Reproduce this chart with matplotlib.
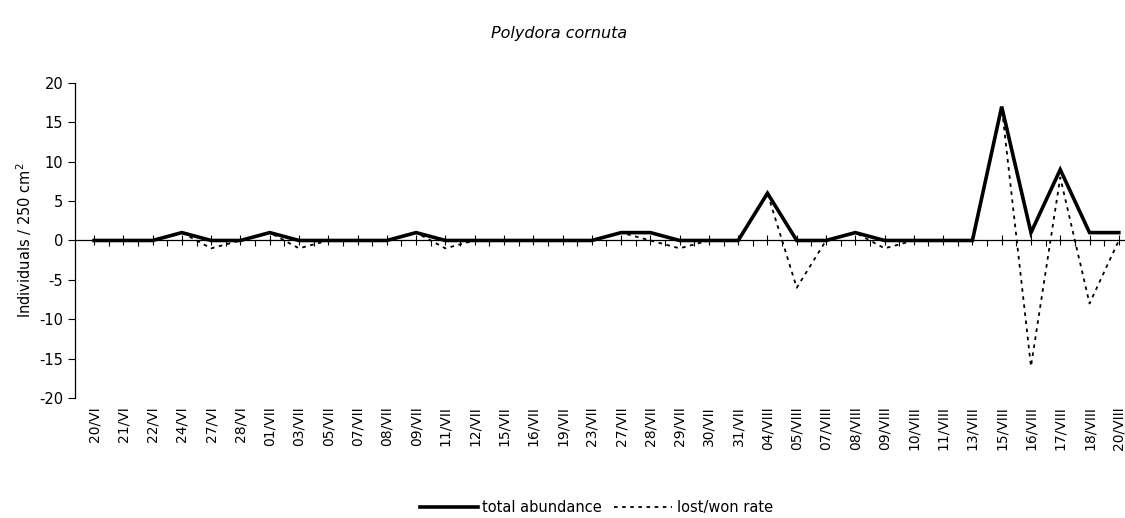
import matplotlib
matplotlib.use("Agg")
import matplotlib.pyplot as plt
import numpy as np

plt.rcParams["axes.unicode_minus"] = False

# sampling dates (day/month in roman numerals)
dates = ["20/VI", "21/VI", "22/VI", "24/VI", "27/VI", "28/VI", "01/VII", "03/VII",
         "05/VII", "07/VII", "08/VII", "09/VII", "11/VII", "12/VII", "15/VII", "16/VII",
         "19/VII", "23/VII", "27/VII", "28/VII", "29/VII", "30/VII", "31/VII", "04/VIII",
         "05/VIII", "07/VIII", "08/VIII", "09/VIII", "10/VIII", "11/VIII", "13/VIII",
         "15/VIII", "16/VIII", "17/VIII", "18/VIII", "20/VIII"]

total_abundance = [0, 0, 0, 1, 0, 0, 1, 0, 0, 0, 0, 1, 0, 0, 0, 0, 0, 0, 1, 1,
                   0, 0, 0, 6, 0, 0, 1, 0, 0, 0, 0, 17, 1, 9, 1, 1]
lost_won_rate = [0, 0, 0, 1, -1, 0, 1, -1, 0, 0, 0, 1, -1, 0, 0, 0, 0, 0, 1, 0,
                 -1, 0, 0, 6, -6, 0, 1, -1, 0, 0, 0, 17, -16, 8, -8, 0]

x = np.arange(len(dates))

fig = plt.figure(figsize=(11.25, 5.18), dpi=100)
ax = fig.add_axes([0.0667, 0.2317, 0.933, 0.6081])

ax.plot(x, total_abundance, color="black", lw=2.6, label="total abundance",
        solid_joinstyle="miter")
ax.plot(x, lost_won_rate, color="black", lw=1.3, linestyle=(0, (2, 2.5)),
        label="lost/won rate")

ax.set_ylim(-20, 20)
ax.set_yticks(range(-20, 21, 5))
ax.set_xlim(-0.65, 35.2)

# x axis line sits at zero, tick marks only
for side in ["top", "right"]:
    ax.spines[side].set_visible(False)
ax.spines["bottom"].set_position(("data", 0))
ax.spines["bottom"].set_linewidth(0.9)
ax.spines["left"].set_linewidth(0.9)
ax.set_xticks(x)
ax.set_xticks(x[:-1] + 0.5, minor=True)
ax.tick_params(axis="x", which="major", direction="inout", length=7, width=0.8,
               labelbottom=False)
ax.tick_params(axis="x", which="minor", direction="out", length=4, width=0.8)
ax.tick_params(axis="y", direction="out", length=5, width=0.8, labelsize=10.5)

# date labels along the bottom
sec = ax.secondary_xaxis(location=0)
sec.set_xticks(x)
sec.set_xticklabels(dates, rotation=90, fontsize=10)
sec.tick_params(axis="x", length=0, pad=6)
sec.spines["bottom"].set_visible(False)

ax.set_ylabel("Individuals / 250 cm$^2$", fontsize=10.5)
fig.text(0.497, 0.935, "Polydora cornuta", ha="center", va="center",
         fontsize=11.5, style="italic")

fig.legend(loc="center", bbox_to_anchor=(0.53, 0.02), ncol=2, frameon=False,
           fontsize=10.5, handlelength=4, handletextpad=0.3, columnspacing=0.8)

fig.savefig("out.png", dpi=100)
